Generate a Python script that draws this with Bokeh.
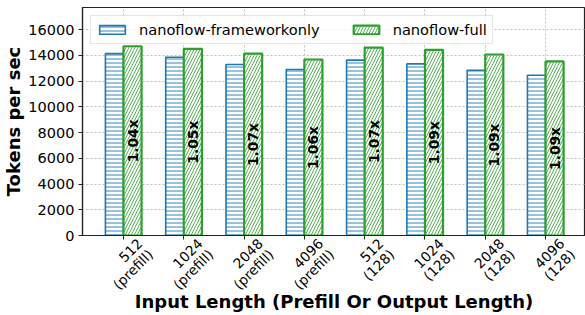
import math
from bokeh.plotting import figure
from bokeh.models import (ColumnDataSource, Range1d, FixedTicker, LinearAxis,
                          Legend, LegendItem, Grid, CustomLabelingPolicy)
from bokeh.core.properties import value
from bokeh.embed import file_html
from bokeh.resources import INLINE

# ---- data ----
categories = ["512\n(prefill)", "1024\n(prefill)", "2048\n(prefill)", "4096\n(prefill)",
              "512\n(128)", "1024\n(128)", "2048\n(128)", "4096\n(128)"]
frameworkonly = [14130, 13850, 13280, 12890, 13620, 13330, 12840, 12450]
full = [14700, 14500, 14130, 13670, 14600, 14420, 14060, 13520]
ratio_labels = ["1.04x", "1.05x", "1.07x", "1.06x", "1.07x", "1.09x", "1.09x", "1.09x"]
y_ticks = [0, 2000, 4000, 6000, 8000, 10000, 12000, 14000, 16000]

FONT = "DejaVu Sans"
BLUE = "#1f77b4"
GREEN = "#2ca02c"
W = 0.3
LABEL_SHIFT = 0.36   # rotated label block is centred on its tick (matplotlib style)

idx = list(range(len(categories)))
src = ColumnDataSource(dict(
    x=idx,
    xb=[i - W / 2 for i in idx],
    xg=[i + W / 2 for i in idx],
    fw=frameworkonly,
    full=full,
    mid=[v / 2 for v in full],
    lab=ratio_labels,
))

p = figure(width=585, height=315, output_backend="svg", toolbar_location=None,
           x_range=Range1d(-0.68, 7.663), y_range=Range1d(0, 17710),
           min_border_left=82, min_border_right=0, min_border_top=7,
           min_border_bottom=80, x_axis_location=None, y_axis_location=None)
p.background_fill_color = "white"
p.border_fill_color = "white"
p.outline_line_color = "#222222"
p.outline_line_width = 1.2

no_labels = CustomLabelingPolicy(code="""
    if (typeof indices.unset === "function") {
        const all = typeof indices.ones === "function" ? [...indices.ones()] : [...indices]
        for (const i of all) indices.unset(i)
        return indices
    }
    return new Set()
""")

# axis 1: tick marks only
xaxis = LinearAxis(ticker=FixedTicker(ticks=idx), major_label_policy=no_labels)
# axis 2: the rotated category labels
label_ticks = [i + LABEL_SHIFT for i in idx]
xlab = LinearAxis(ticker=FixedTicker(ticks=label_ticks),
                  major_label_overrides={t: c for t, c in zip(label_ticks, categories)})
yaxis = LinearAxis(ticker=FixedTicker(ticks=y_ticks))
p.add_layout(xaxis, "below")
p.add_layout(xlab, "below")
p.add_layout(yaxis, "left")

for ax in (xaxis, xlab, yaxis):
    ax.axis_line_color = "#222222"
    ax.axis_line_width = 1.2
    ax.major_tick_line_color = "#222222"
    ax.major_tick_out = 4
    ax.major_tick_in = 0
    ax.minor_tick_line_color = None
    ax.major_label_text_font = FONT
    ax.major_label_text_font_size = "14.5px"
    ax.major_label_text_color = "black"
    ax.axis_label_text_font = FONT
    ax.axis_label_text_font_style = "bold"
    ax.axis_label_text_font_size = "18px"
    ax.axis_label_text_color = "black"

xaxis.major_label_standoff = 0
xlab.axis_line_color = None
xlab.major_tick_line_color = None
xlab.major_tick_out = 0
xlab.major_label_standoff = -6
xlab.major_label_orientation = math.pi / 4
xlab.major_label_text_align = "center"
xlab.major_label_text_font_size = "13.8px"
xlab.major_label_text_line_height = 0.95
xlab.axis_label = "Input Length (Prefill Or Output Length)"
xlab.axis_label_standoff = -16
yaxis.major_label_standoff = 4
yaxis.axis_label = "Tokens per sec"
yaxis.axis_label_standoff = 1

p.xgrid.visible = False
p.ygrid.visible = False
gx = Grid(dimension=0, ticker=xaxis.ticker, grid_line_color="#b0b0b0",
          grid_line_dash="2 2", grid_line_width=0.8)
gy = Grid(dimension=1, ticker=yaxis.ticker, grid_line_color="#b0b0b0",
          grid_line_dash="2 2", grid_line_width=0.8)
p.add_layout(gx)
p.add_layout(gy)

r1 = p.vbar(x="xb", top="fw", width=W, source=src, fill_color="white",
            line_color=BLUE, line_width=1.6, hatch_pattern="-",
            hatch_color=BLUE, hatch_scale=4, hatch_weight=1, hatch_alpha=0.9)
r2 = p.vbar(x="xg", top="full", width=W, source=src, fill_color="white",
            line_color=GREEN, line_width=2.2, hatch_pattern="/",
            hatch_color=GREEN, hatch_scale=6, hatch_weight=0.9, hatch_alpha=0.9)

p.text(x="xg", y="mid", text="lab", source=src, angle=math.pi / 2,
       text_align="center", text_baseline="middle", text_font=value(FONT),
       text_font_style="bold", text_font_size="13.8px", text_color="black")

legend = Legend(items=[LegendItem(label="nanoflow-frameworkonly", renderers=[r1]),
                       LegendItem(label="nanoflow-full", renderers=[r2])],
                orientation="horizontal", location="top_left")
legend.margin = 8
legend.padding = 5
legend.spacing = 30
legend.label_standoff = 11
legend.glyph_width = 32
legend.glyph_height = 11
legend.label_text_font = FONT
legend.label_text_font_size = "14.6px"
legend.label_text_color = "black"
legend.border_line_color = "#cccccc"
legend.border_line_width = 1
legend.background_fill_alpha = 0.8
p.add_layout(legend, "center")

open("out.html", "w").write(file_html(p, INLINE))
